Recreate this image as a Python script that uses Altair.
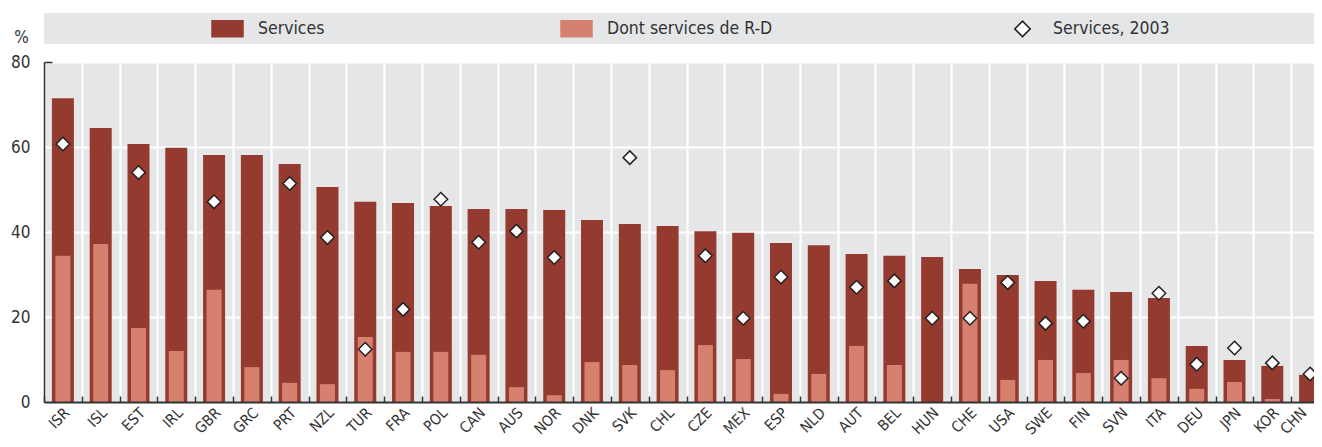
import altair as alt
import pandas as pd

countries = ["ISR", "ISL", "EST", "IRL", "GBR", "GRC", "PRT", "NZL", "TUR", "FRA",
             "POL", "CAN", "AUS", "NOR", "DNK", "SVK", "CHL", "CZE", "MEX", "ESP",
             "NLD", "AUT", "BEL", "HUN", "CHE", "USA", "SWE", "FIN", "SVN", "ITA",
             "DEU", "JPN", "KOR", "CHN"]
services = [71.5, 64.5, 60.7, 59.8, 58.1, 58.1, 56.0, 50.6, 47.1, 46.8,
            46.1, 45.4, 45.4, 45.2, 42.8, 41.9, 41.4, 40.2, 39.8, 37.4,
            36.9, 34.8, 34.4, 34.1, 31.3, 29.9, 28.5, 26.4, 25.9, 24.5,
            13.2, 9.9, 8.5, 6.4]
rd_services = [34.4, 37.2, 17.4, 12.0, 26.4, 8.2, 4.5, 4.2, 15.3, 11.8,
               11.8, 11.1, 3.5, 1.6, 9.4, 8.7, 7.5, 13.4, 10.1, 1.9,
               6.6, 13.2, 8.7, None, 27.8, 5.2, 9.9, 6.8, 9.9, 5.6,
               3.1, 4.7, 0.7, None]
services_2003 = [60.7, None, 54.0, None, 47.1, None, 51.4, 38.7, 12.4, 21.8,
                 47.7, 37.6, 40.2, 34.0, None, 57.5, None, 34.4, 19.7, 29.4,
                 None, 27.0, 28.5, 19.7, 19.7, 28.1, 18.5, 19.0, 5.6, 25.6,
                 8.9, 12.7, 9.2, 6.6]
series_names = ["Services", "Dont services de R-D", "Services, 2003"]
y_ticks = [0, 20, 40, 60, 80]

rows = []
for c, a, b, d in zip(countries, services, rd_services, services_2003):
    rows.append({"country": c, "series": series_names[0], "value": a})
    if b is not None:
        rows.append({"country": c, "series": series_names[1], "value": b})
    if d is not None:
        rows.append({"country": c, "series": series_names[2], "value": d})
df = pd.DataFrame(rows)

FONT = "DejaVu Sans Condensed, Liberation Sans Narrow, sans-serif"
DARK = "#953a2e"
LIGHT = "#d6806f"
BG = "#e5e6e8"
INK = "#333333"
W, H = 1270, 340          # visible plot area (page is 1322 wide)
XRANGE = 1285             # full band range; the last band runs past the page edge

RECT = "M-1,-0.516L1,-0.516L1,0.516L-1,0.516Z"
DIAM = "M0,-0.5L0.5,0L0,0.5L-0.5,0Z"

legend = alt.Legend(orient="none", legendX=167, legendY=-50, direction="horizontal",
                    title=None, symbolSize=961, labelOffset=14, columnPadding=233,
                    labelFont=FONT, labelFontSize=17.5, labelColor=INK, padding=0,
                    symbolStrokeWidth=1.5, labelLimit=400)

fill_enc = alt.Fill("series:N", scale=alt.Scale(domain=series_names, range=[DARK, LIGHT, "white"]),
                    legend=legend)
shape_enc = alt.Shape("series:N", scale=alt.Scale(domain=series_names, range=[RECT, RECT, DIAM]),
                      legend=legend)
stroke_enc = alt.Stroke("series:N", scale=alt.Scale(domain=series_names, range=[DARK, LIGHT, "#222222"]),
                        legend=legend)

xscale = alt.Scale(domain=countries, paddingInner=0, paddingOuter=0, range=[0, XRANGE])
yscale = alt.Scale(domain=[0, 80])

legend_bg = alt.Chart(alt.Data(values=[{"a": 1}])).mark_rect(color=BG).encode(
    x=alt.value(0), x2=alt.value(W), y=alt.value(-49), y2=alt.value(-18)
)

bars = alt.Chart(df).transform_filter(alt.datum.series == series_names[0]).mark_bar(size=22).encode(
    x=alt.X("country:N", scale=xscale,
            axis=alt.Axis(orient="bottom", grid=True, tickBand="extent", gridColor="white",
                          gridWidth=2, gridOpacity=1, domain=False, ticks=False, labels=False,
                          title=None, zindex=0)),
    y=alt.Y("value:Q", scale=yscale,
            axis=alt.Axis(orient="left", grid=True, gridColor="white", gridWidth=2, gridOpacity=1,
                          values=y_ticks, domain=False, ticks=False, labels=False, title=None,
                          zindex=0)),
    fill=fill_enc,
)

rd = alt.Chart(df).transform_filter(alt.datum.series == series_names[1]).mark_bar(size=15).encode(
    x=alt.X("country:N", scale=xscale,
            axis=alt.Axis(orient="bottom", grid=False, ticks=False, domain=True, domainColor=INK,
                          domainWidth=2, labelAngle=-45, labelFontSize=15, labelColor=INK,
                          labelFont=FONT, labelPadding=3,
                          labelOffset=alt.condition("datum.value == 'CHN'", alt.value(-11), alt.value(-1)),
                          title=None, zindex=1)),
    y=alt.Y("value:Q", scale=yscale,
            axis=alt.Axis(orient="left", grid=False, ticks=False, domain=True, domainColor=INK,
                          domainWidth=1.5, values=y_ticks, labelFontSize=17, labelColor=INK,
                          labelFont=FONT, labelPadding=14, title="%", titleAngle=0, titleX=-23,
                          titleY=-20, titleFontSize=17, titleFontWeight="normal", titleColor=INK,
                          titleFont=FONT, titleAlign="center", titleBaseline="alphabetic",
                          zindex=1)),
    fill=fill_enc,
)

points = alt.Chart(df).transform_filter(alt.datum.series == series_names[2]).mark_point(
    filled=True, size=729, strokeWidth=1.5, opacity=1
).encode(
    x=alt.X("country:N", scale=xscale,
            axis=alt.Axis(orient="bottom", tickBand="extent", offset=-6, tickSize=6, tickColor=INK,
                          tickWidth=1.5, domain=False, labels=False, grid=False, title=None,
                          zindex=1)),
    y=alt.Y("value:Q", scale=yscale,
            axis=alt.Axis(orient="left", values=[80], offset=-8, tickSize=8, tickColor=INK,
                          tickWidth=1.5, domain=False, labels=False, grid=False, title=None,
                          zindex=1)),
    fill=fill_enc,
    shape=shape_enc,
    stroke=stroke_enc,
)

chart = alt.layer(legend_bg, bars, rd, points).resolve_axis(
    x="independent", y="independent"
).properties(
    width=W, height=H,
    autosize=alt.AutoSizeParams(type="none"),
    padding={"left": 36, "top": 54, "right": 0, "bottom": 37},
).configure(font=FONT).configure_view(fill=BG, stroke=None)

chart.save("out.html", embed_options={"renderer": "svg", "actions": False})
